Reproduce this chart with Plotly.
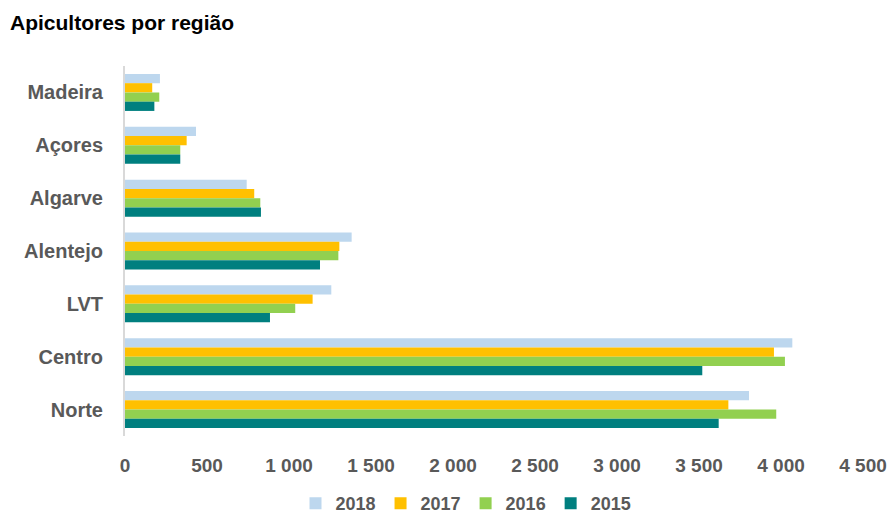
import plotly.graph_objects as go

# Beekeepers per region, 2015-2018
regions = ["Madeira", "Açores", "Algarve", "Alentejo", "LVT", "Centro", "Norte"]
years = ["2018", "2017", "2016", "2015"]
v2018 = [213, 433, 742, 1382, 1258, 4069, 3805]
v2017 = [166, 376, 788, 1307, 1144, 3957, 3679]
v2016 = [209, 337, 825, 1301, 1038, 4024, 3971]
v2015 = [179, 337, 829, 1189, 884, 3520, 3620]
series = [v2018, v2017, v2016, v2015]
colors = ["#BDD7EE", "#FFC000", "#92D050", "#007F7F"]

x_ticks = [0, 500, 1000, 1500, 2000, 2500, 3000, 3500, 4000, 4500]
x_tick_text = ["0", "500", "1 000", "1 500", "2 000", "2 500", "3 000", "3 500", "4 000", "4 500"]

font_family = "Liberation Sans, Arial"
grey = "#595959"

fig = go.Figure()
for name, vals, col in zip(years, series, colors):
    fig.add_trace(go.Bar(
        y=regions, x=vals, name="<b>%s</b>" % name, orientation="h",
        marker=dict(color=col, line=dict(width=0)),
    ))

fig.update_layout(
    width=892, height=522,
    margin=dict(l=125, r=29, t=66, b=86),
    paper_bgcolor="white", plot_bgcolor="white",
    barmode="group", bargap=0.3, bargroupgap=0.0,
    title=dict(text="<b>Apicultores por região</b>", x=10 / 892, xanchor="left",
               xref="container", yref="container",
               y=1 - 23 / 522, yanchor="middle",
               font=dict(family=font_family, size=21, color="#000000")),
    xaxis=dict(range=[0, 4500], tickvals=x_ticks,
               ticktext=["<b>%s</b>" % t for t in x_tick_text],
               showgrid=False, zeroline=False, showline=False, automargin=False,
               ticks="outside", ticklen=12, tickcolor="rgba(0,0,0,0)",
               tickfont=dict(family=font_family, size=19, color=grey)),
    yaxis=dict(autorange="reversed", showgrid=False, zeroline=False,
               showline=True, linecolor="#D9D9D9", linewidth=2, automargin=False,
               tickvals=regions, ticktext=["<b>%s</b>" % r for r in regions],
               ticks="outside", ticklen=16, tickcolor="rgba(0,0,0,0)",
               tickfont=dict(family=font_family, size=20, color=grey)),
    legend=dict(orientation="h", xref="container", yref="container",
                x=466 / 892, xanchor="center", y=-6 / 522, yanchor="bottom",
                font=dict(family=font_family, size=18, color=grey),
                traceorder="normal", borderwidth=0),
    showlegend=True,
)

fig.write_html("out.html")
